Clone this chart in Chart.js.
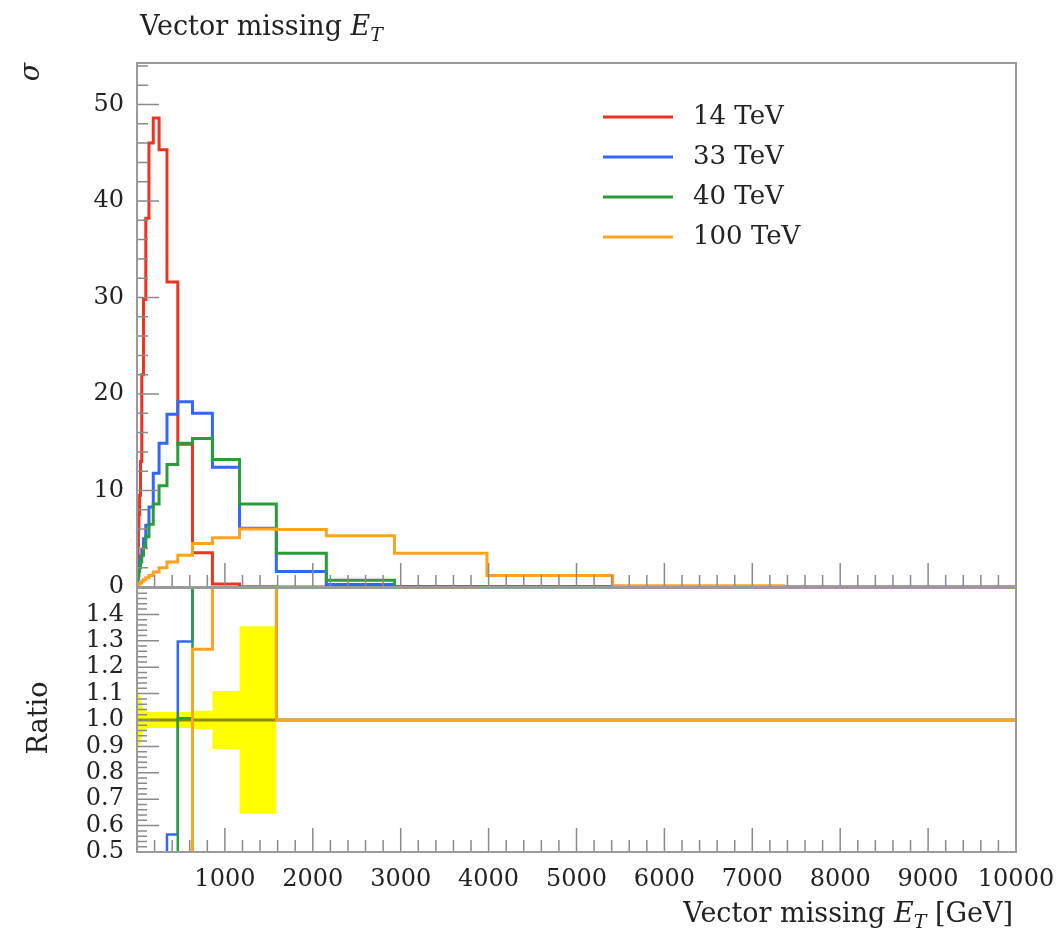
<!DOCTYPE html>
<html lang="en">
<head>
<meta charset="UTF-8">
<title>Vector missing ET</title>
<script src="https://cdn.jsdelivr.net/npm/chart.js@4.4.1/dist/chart.umd.min.js"></script>
<style>
  body { margin: 0; background: #fff; }
  #wrap { position: relative; width: 1056px; height: 933px; }
  canvas { position: absolute; left: 0; }
  #main { top: 0; }
  #ratio { top: 580px; }
</style>
</head>
<body>
<div id="wrap">
  <canvas id="main" width="1056" height="600"></canvas>
  <canvas id="ratio" width="1056" height="353"></canvas>
</div>
<script>
// bin edges in GeV, 30 log bins from 1 to 10000
const edges = [1, 1.36, 1.85, 2.51, 3.41, 4.64, 6.31, 8.58, 11.7, 15.8,
               21.5, 29.3, 39.8, 54.1, 73.6, 100, 136, 185, 251, 341,
               464, 631, 858, 1166, 1585, 2154, 2929, 3981, 5412, 7356, 10000];

const labels = ['14 TeV', '33 TeV', '40 TeV', '100 TeV'];

// sigma per bin
const xsec14  = [0.3, 0.4, 0.6, 0.8, 1.1, 1.5, 2.1, 3.0, 4.3, 6.0,
                 7.5, 9.5, 13.0, 22.0, 29.8, 38.2, 46.0, 48.6, 45.3, 31.6,
                 14.8, 3.55, 0.32, 0.03, 0, 0, 0, 0, 0, 0];
const xsec33  = [0.1, 0.15, 0.2, 0.3, 0.4, 0.5, 0.7, 0.9, 1.2, 1.6,
                 2.1, 2.6, 3.2, 3.9, 5.0, 6.4, 8.3, 11.8, 14.9, 17.9,
                 19.2, 18.0, 12.4, 6.1, 1.6, 0.25, 0.02, 0, 0, 0];
const xsec40  = [0.1, 0.1, 0.15, 0.2, 0.3, 0.4, 0.5, 0.7, 0.9, 1.2,
                 1.6, 2.0, 2.6, 3.3, 4.2, 5.2, 6.5, 8.6, 10.5, 12.7,
                 14.9, 15.4, 13.2, 8.6, 3.5, 0.7, 0.05, 0.03, 0, 0];
const xsec100 = [0.02, 0.03, 0.04, 0.05, 0.06, 0.08, 0.1, 0.13, 0.17, 0.22,
                 0.28, 0.35, 0.45, 0.6, 0.75, 0.95, 1.2, 1.55, 2.0, 2.6,
                 3.3, 4.5, 5.1, 6.0, 5.95, 5.3, 3.5, 1.2, 0.12, 0.02];

// relative uncertainty of the 14 TeV reference (bins where it is filled)
const refErr = [0.15, 0.14, 0.13, 0.12, 0.12, 0.11, 0.11, 0.1, 0.1, 0.1,
                0.1, 0.09, 0.07, 0.05, 0.04, 0.03, 0.03, 0.03, 0.03, 0.03,
                0.03, 0.035, 0.11, 0.355];

const xTicks = [1000, 2000, 3000, 4000, 5000, 6000, 7000, 8000, 9000, 10000];
const yTicks = [0, 10, 20, 30, 40, 50];
const ratioTicks = [0.5, 0.6, 0.7, 0.8, 0.9, 1.0, 1.1, 1.2, 1.3, 1.4];

const FONT = "'DejaVu Serif', serif";
const TEXT = '#222';
const colors = ['#ee3322', '#3366ff', '#2a9d3a', '#ffa21f'];
const series = [xsec14, xsec33, xsec40, xsec100];

// histogram outline: one point per lower edge, plus the last upper edge
function histPoints(vals) {
  const pts = vals.map((v, i) => ({x: edges[i], y: v}));
  pts.push({x: edges[vals.length], y: vals[vals.length - 1]});
  return pts;
}

function isMultiple(v, step) {
  const q = v / step;
  return Math.abs(q - Math.round(q)) < 1e-6;
}

// keep the plot box where the layout padding puts it
function noOverflow(s) {
  s.paddingLeft = 0;
  s.paddingRight = 0;
  s.paddingTop = 0;
  s.paddingBottom = 0;
}

// text with italic / subscript pieces, e.g. E_T
function drawRich(ctx, parts, x, y, align, size) {
  const fontOf = p => (p.it ? 'italic ' : '') + (p.sub ? Math.round(size * 0.7) : size) + 'px ' + FONT;
  let w = 0;
  parts.forEach(p => { ctx.font = fontOf(p); w += ctx.measureText(p.t).width; });
  let cx = align === 'right' ? x - w : x;
  ctx.textAlign = 'left';
  ctx.textBaseline = 'alphabetic';
  parts.forEach(p => {
    ctx.font = fontOf(p);
    ctx.fillText(p.t, cx, p.sub ? y + size * 0.22 : y);
    cx += ctx.measureText(p.t).width;
  });
}

// box around the plot area with inward ticks on bottom and left
const framePlugin = {
  id: 'frame',
  afterDatasetsDraw(chart, args, o) {
    const {ctx, chartArea: a, scales: {x, y}} = chart;
    ctx.save();
    ctx.strokeStyle = '#8a8a8a';
    ctx.lineWidth = 1.5;
    ctx.beginPath();
    for (let k = 0; x.min + k * o.xMinor <= x.max + 1e-9; k++) {
      const v = x.min + k * o.xMinor;
      const len = isMultiple(v, o.xMajor) ? o.xLen[0] : o.xLen[1];
      const px = x.getPixelForValue(v);
      ctx.moveTo(px, a.bottom);
      ctx.lineTo(px, a.bottom - len);
    }
    for (let k = 0; y.min + k * o.yMinor <= y.max + 1e-9; k++) {
      const v = y.min + k * o.yMinor;
      const len = isMultiple(v, o.yMajor) ? o.yLen[0] : o.yLen[1];
      const py = y.getPixelForValue(v);
      ctx.moveTo(a.left, py);
      ctx.lineTo(a.left + len, py);
    }
    ctx.stroke();
    ctx.strokeStyle = '#9a9a9a';
    ctx.lineWidth = 2;
    ctx.strokeRect(a.left, a.top, a.right - a.left, a.bottom - a.top);
    ctx.restore();
  }
};

const mainText = {
  id: 'mainText',
  afterDraw(chart) {
    const ctx = chart.ctx;
    ctx.save();
    ctx.fillStyle = TEXT;
    drawRich(ctx, [{t: 'Vector missing '}, {t: 'E', it: true}, {t: 'T', it: true, sub: true}], 140, 35, 'left', 27);
    // y axis title
    ctx.save();
    ctx.translate(32, 72);
    ctx.rotate(-Math.PI / 2);
    ctx.font = 'italic 27px ' + FONT;
    ctx.textAlign = 'center';
    ctx.textBaseline = 'middle';
    ctx.fillText('σ', 0, 0);
    ctx.restore();
    // legend
    chart.data.datasets.forEach((ds, i) => {
      const ly = 117 + 40 * i;
      ctx.strokeStyle = ds.borderColor;
      ctx.lineWidth = 3;
      ctx.beginPath();
      ctx.moveTo(603, ly);
      ctx.lineTo(673, ly);
      ctx.stroke();
      ctx.font = '26px ' + FONT;
      ctx.textAlign = 'left';
      ctx.textBaseline = 'middle';
      ctx.fillText(ds.label, 693, ly);
    });
    ctx.restore();
  }
};

const ratioText = {
  id: 'ratioText',
  afterDraw(chart) {
    const ctx = chart.ctx;
    ctx.save();
    ctx.fillStyle = TEXT;
    ctx.save();
    ctx.translate(40, 138);
    ctx.rotate(-Math.PI / 2);
    ctx.font = '27px ' + FONT;
    ctx.textAlign = 'center';
    ctx.textBaseline = 'middle';
    ctx.fillText('Ratio', 0, 0);
    ctx.restore();
    drawRich(ctx, [{t: 'Vector missing '}, {t: 'E', it: true}, {t: 'T', it: true, sub: true}, {t: ' [GeV]'}],
             1013, 342, 'right', 27);
    ctx.restore();
  }
};

const tickFont = {family: FONT, size: 24};

// upper panel: the four spectra
new Chart(document.getElementById('main'), {
  type: 'line',
  data: {
    datasets: series.map((vals, i) => ({
      label: labels[i],
      data: histPoints(vals),
      borderColor: colors[i],
      borderWidth: 3,
      stepped: true,
      pointRadius: 0,
      fill: false,
      order: series.length - i
    }))
  },
  options: {
    responsive: false,
    animation: false,
    devicePixelRatio: 1,
    layout: {padding: {left: 0, right: 40, top: 63, bottom: 13}},
    plugins: {
      legend: {display: false},
      tooltip: {enabled: false},
      frame: {xMajor: 1000, xMinor: 200, xLen: [24, 12], yMajor: 10, yMinor: 2, yLen: [22, 11]}
    },
    scales: {
      x: {type: 'linear', min: 0, max: 10000, display: false},
      y: {
        min: 0, max: 54.3,
        grid: {display: false, drawTicks: false},
        border: {display: false},
        afterBuildTicks: s => { s.ticks = yTicks.map(v => ({value: v})); },
        afterFit: s => { s.width = 137; noOverflow(s); },
        ticks: {font: tickFont, color: TEXT, padding: 13, autoSkip: false}
      }
    }
  },
  plugins: [framePlugin, mainText]
});

// lower panel: ratio to 14 TeV
const ratioOf = vals => vals.map((v, i) => xsec14[i] > 0 ? v / xsec14[i] : 1);
const ratioSets = [
  {data: histPoints(refErr.map(e => 1 + e)), borderWidth: 0, backgroundColor: '#ffff00', fill: '+1', order: 10},
  {data: histPoints(refErr.map(e => 1 - e)), borderWidth: 0, fill: false, order: 10},
  {data: histPoints(refErr.map(() => 1)), borderColor: '#8c8c00', borderWidth: 3, fill: false, order: 5},
  {data: histPoints(ratioOf(xsec33)), borderColor: colors[1], borderWidth: 2.5, fill: false, order: 3},
  {data: histPoints(ratioOf(xsec40)), borderColor: colors[2], borderWidth: 2.5, fill: false, order: 2},
  {data: histPoints(ratioOf(xsec100)), borderColor: colors[3], borderWidth: 3, fill: false, order: 1}
].map(ds => Object.assign({stepped: true, pointRadius: 0}, ds));

new Chart(document.getElementById('ratio'), {
  type: 'line',
  data: {datasets: ratioSets},
  options: {
    responsive: false,
    animation: false,
    devicePixelRatio: 1,
    layout: {padding: {left: 0, right: 40, top: 8, bottom: 0}},
    plugins: {
      legend: {display: false},
      tooltip: {enabled: false},
      frame: {xMajor: 1000, xMinor: 200, xLen: [24, 12], yMajor: 0.1, yMinor: 0.02, yLen: [22, 10]}
    },
    scales: {
      x: {
        type: 'linear', min: 0, max: 10000,
        grid: {display: false, drawTicks: false},
        border: {display: false},
        afterBuildTicks: s => { s.ticks = xTicks.map(v => ({value: v})); },
        afterFit: s => { s.height = 81; noOverflow(s); },
        ticks: {font: tickFont, color: TEXT, padding: 13, maxRotation: 0, autoSkip: false,
                callback: v => String(v)}
      },
      y: {
        min: 0.5, max: 1.5,
        grid: {display: false, drawTicks: false},
        border: {display: false},
        afterBuildTicks: s => { s.ticks = ratioTicks.map(v => ({value: v})); },
        afterFit: s => { s.width = 137; noOverflow(s); },
        ticks: {font: tickFont, color: TEXT, padding: 13, autoSkip: false, callback: v => v.toFixed(1)}
      }
    }
  },
  plugins: [framePlugin, ratioText]
});
</script>
</body>
</html>
